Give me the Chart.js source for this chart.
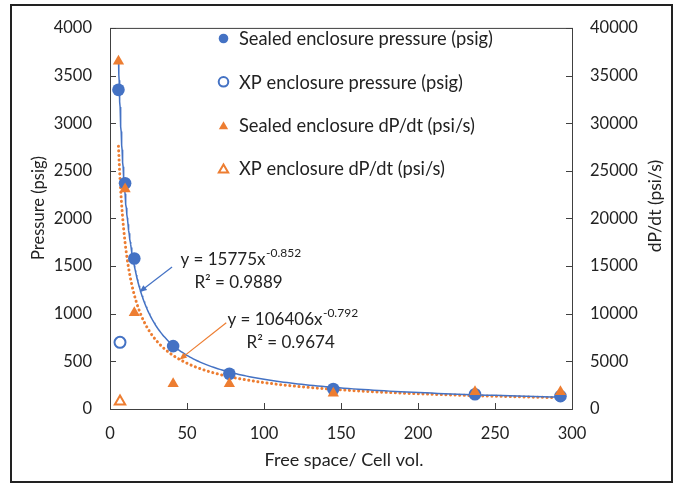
<!DOCTYPE html>
<html>
<head>
<meta charset="utf-8">
<script src="https://cdn.jsdelivr.net/npm/chart.js@4.4.1/dist/chart.umd.min.js"></script>
<style>
  html, body { margin: 0; padding: 0; background: #fff; }
  #wrap { width: 676px; height: 483px; }
</style>
</head>
<body>
<div id="wrap"><canvas id="chart" width="676" height="483"></canvas></div>
<script>
// Data
const seriesLabels = ['Sealed enclosure pressure (psig)', 'XP enclosure pressure (psig)',
                      'Sealed enclosure dP/dt (psi/s)', 'XP enclosure dP/dt (psi/s)'];
const sealedSpace = [5.5, 9.8, 15.8, 41, 77.5, 145, 237, 292.5];
const sealedPressure = [3350, 2370, 1580, 660, 370, 210, 155, 135];
const sealedDpdt = [36500, 23100, 10100, 2650, 2650, 1650, 1800, 1800];
const xpSpace = [6.5];
const xpPressure = [700];
const xpDpdt = [800];

// power trendlines as printed on the chart: y = a * x^b
const pressureFit = [15775, -0.852];
const dpdtFit = [106406, -0.792];
const fitLabels = [['y = 15775x', '-0.852', 'R² = 0.9889'], ['y = 106406x', '-0.792', 'R² = 0.9674']];

const blue = '#4472C4';
const orange = '#ED7D31';
const font = 'Lato, "Open Sans", sans-serif';

function toPoints(xs, ys) {
    return xs.map((x, i) => ({ x: x, y: ys[i] }));
}

// trendline sampled along the data range
function trend(fit) {
    const pts = [];
    const x0 = sealedSpace[0], x1 = sealedSpace[sealedSpace.length - 1];
    for (let i = 0; i <= 200; i++) {
        const x = x0 * Math.pow(x1 / x0, i / 200);
        pts.push({ x: x, y: fit[0] * Math.pow(x, fit[1]) });
    }
    return pts;
}

// frame, plot border, inward ticks, axis titles
const decor = {
    id: 'decor',
    afterDraw(chart) {
        const ctx = chart.ctx;
        const a = chart.chartArea;
        const sx = chart.scales.x, sy = chart.scales.y, sy2 = chart.scales.y2;
        ctx.save();
        ctx.strokeStyle = '#222';
        ctx.lineWidth = 2;
        ctx.strokeRect(11, 5, 661, 477);

        ctx.strokeStyle = '#404040';
        ctx.lineWidth = 1;
        ctx.strokeRect(a.left + 0.5, a.top + 0.5, a.right - a.left, a.bottom - a.top);
        ctx.beginPath();
        sy.ticks.forEach(t => {
            const p = Math.round(sy.getPixelForValue(t.value)) + 0.5;
            ctx.moveTo(a.left, p); ctx.lineTo(a.left + 6, p);
        });
        sy2.ticks.forEach(t => {
            const p = Math.round(sy2.getPixelForValue(t.value)) + 0.5;
            ctx.moveTo(a.right, p); ctx.lineTo(a.right - 6, p);
        });
        sx.ticks.forEach(t => {
            const p = Math.round(sx.getPixelForValue(t.value)) + 0.5;
            ctx.moveTo(p, a.bottom); ctx.lineTo(p, a.bottom - 6);
        });
        ctx.stroke();

        ctx.fillStyle = '#222';
        ctx.textAlign = 'center';
        ctx.textBaseline = 'middle';
        ctx.font = '18px ' + font;
        ctx.fillText('Free space/ Cell vol.', 344, 460);
        ctx.save();
        ctx.font = '16.5px ' + font;
        ctx.translate(39, 208);
        ctx.rotate(-Math.PI / 2);
        ctx.fillText('Pressure (psig)', 0, 0);
        ctx.restore();
        ctx.save();
        ctx.font = '17.5px ' + font;
        ctx.translate(655, 206);
        ctx.rotate(-Math.PI / 2);
        ctx.fillText('dP/dt (psi/s)', 0, 0);
        ctx.restore();

        // legend inside the plot
        ctx.font = '18.3px ' + font;
        const markers = chart.data.datasets.slice(0, 4);
        markers.forEach((ds, i) => {
            const y = 38.5 + i * 43.3;
            ctx.fillStyle = ds.backgroundColor;
            ctx.strokeStyle = ds.borderColor;
            ctx.lineWidth = 2;
            const tri = ds.pointStyle === 'triangle';
            Chart.helpers.drawPoint(ctx, { pointStyle: ds.pointStyle, rotation: 0,
                radius: tri ? 5.4 : 4.8, borderWidth: ds.backgroundColor === '#fff' ? 2 : 0 },
                223.5, tri ? y + 1.5 : y);
            ctx.fillStyle = '#222';
            ctx.textAlign = 'left';
            ctx.fillText(seriesLabels[i], 239, y + 1);
        });

        // trendline equations and arrows
        const notes = [
            { fit: fitLabels[0], color: blue, axis: sy, eq: [45.7, 1565], r2: [54.8, 1332], from: [40.3, 1491], to: [19.1, 1227] },
            { fit: fitLabels[1], color: orange, axis: sy2, eq: [76.3, 9360], r2: [88.7, 7030], from: [75.5, 9060], to: [45.1, 5170] }
        ];
        notes.forEach(n => {
            const ex = sx.getPixelForValue(n.eq[0]), ey = n.axis.getPixelForValue(n.eq[1]);
            ctx.fillStyle = '#222';
            ctx.textAlign = 'left';
            ctx.font = '17px ' + font;
            ctx.fillText(n.fit[0], ex, ey);
            const w = ctx.measureText(n.fit[0]).width;
            ctx.font = '12px ' + font;
            ctx.fillText(n.fit[1], ex + w + 0.5, ey - 6.5);
            ctx.font = '17px ' + font;
            ctx.fillText(n.fit[2], sx.getPixelForValue(n.r2[0]), n.axis.getPixelForValue(n.r2[1]));

            const x1 = sx.getPixelForValue(n.from[0]), y1 = n.axis.getPixelForValue(n.from[1]);
            const x2 = sx.getPixelForValue(n.to[0]), y2 = n.axis.getPixelForValue(n.to[1]);
            const ang = Math.atan2(y2 - y1, x2 - x1);
            ctx.strokeStyle = n.color;
            ctx.fillStyle = n.color;
            ctx.lineWidth = 1.2;
            ctx.beginPath();
            ctx.moveTo(x1, y1);
            ctx.lineTo(x2 - 5 * Math.cos(ang), y2 - 5 * Math.sin(ang));
            ctx.stroke();
            ctx.beginPath();
            ctx.moveTo(x2, y2);
            ctx.lineTo(x2 - 8 * Math.cos(ang - 0.4), y2 - 8 * Math.sin(ang - 0.4));
            ctx.lineTo(x2 - 8 * Math.cos(ang + 0.4), y2 - 8 * Math.sin(ang + 0.4));
            ctx.closePath();
            ctx.fill();
        });
        ctx.restore();
    }
};

const tickFont = { family: font, size: 16.5 };
const plain = v => String(v);

new Chart(document.getElementById('chart'), {
    type: 'scatter',
    data: {
        datasets: [
            { label: seriesLabels[0], data: toPoints(sealedSpace, sealedPressure), yAxisID: 'y',
              pointStyle: 'circle', pointRadius: 6.3, backgroundColor: blue, borderColor: blue, borderWidth: 0, order: 1 },
            { label: seriesLabels[1], data: toPoints(xpSpace, xpPressure), yAxisID: 'y',
              pointStyle: 'circle', pointRadius: 5.5, backgroundColor: '#fff', borderColor: blue, borderWidth: 2, order: 1 },
            { label: seriesLabels[2], data: toPoints(sealedSpace, sealedDpdt), yAxisID: 'y2',
              pointStyle: 'triangle', pointRadius: 6.5, backgroundColor: orange, borderColor: orange, borderWidth: 0, order: 0 },
            { label: seriesLabels[3], data: toPoints(xpSpace, xpDpdt), yAxisID: 'y2',
              pointStyle: 'triangle', pointRadius: 6, backgroundColor: '#fff', borderColor: orange, borderWidth: 2, order: 0 },
            { label: 'Pressure fit', data: trend(pressureFit), yAxisID: 'y', showLine: true,
              pointRadius: 0, borderColor: blue, borderWidth: 1.5, order: 2 },
            { label: 'dP/dt fit', data: trend(dpdtFit), yAxisID: 'y2', showLine: true,
              pointRadius: 0, borderColor: orange, borderWidth: 3, borderDash: [0.1, 4.5],
              borderCapStyle: 'round', order: 2 }
        ]
    },
    options: {
        responsive: false,
        animation: false,
        layout: { padding: { top: 17, left: 0, right: 0, bottom: 0 } },
        plugins: { legend: { display: false }, tooltip: { enabled: false } },
        scales: {
            x: {
                type: 'linear', min: 0, max: 300,
                ticks: { stepSize: 50, padding: 15, color: '#222', font: tickFont, callback: plain },
                grid: { display: false, drawTicks: false },
                border: { display: false },
                afterFit: s => { s.height = 74; }
            },
            y: {
                position: 'left', min: 0, max: 4000,
                ticks: { stepSize: 500, padding: 18, color: '#222', font: tickFont, callback: plain },
                grid: { display: false, drawTicks: false },
                border: { display: false },
                afterFit: s => { s.width = 110; }
            },
            y2: {
                position: 'right', min: 0, max: 40000,
                ticks: { stepSize: 5000, padding: 18, color: '#222', font: tickFont, callback: plain },
                grid: { display: false, drawTicks: false },
                border: { display: false },
                afterFit: s => { s.width = 104; }
            }
        }
    },
    plugins: [decor]
});
</script>
</body>
</html>
